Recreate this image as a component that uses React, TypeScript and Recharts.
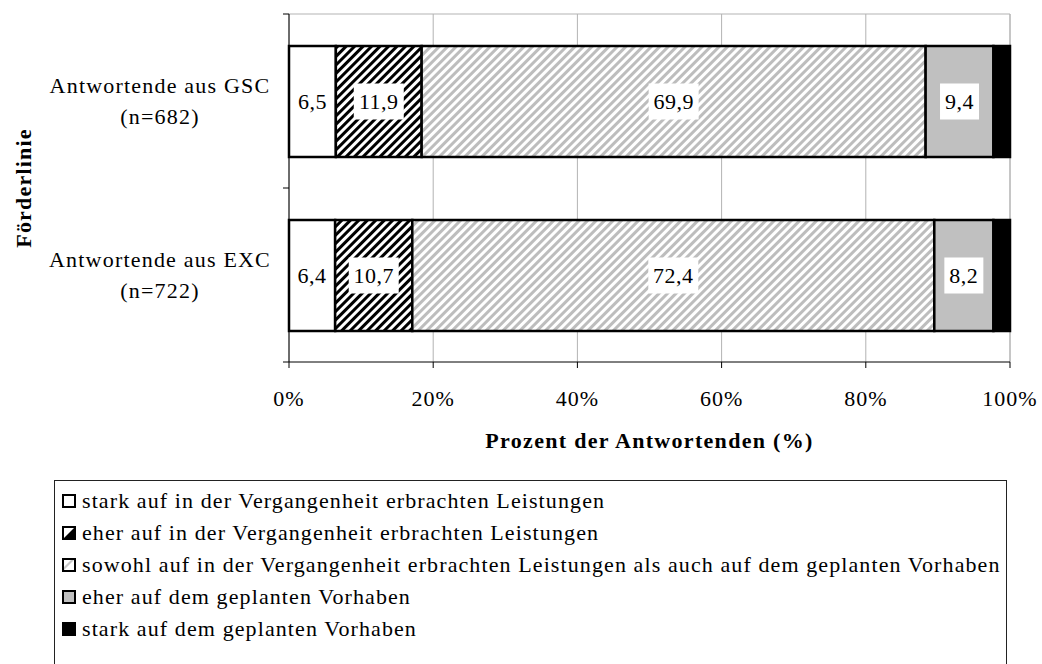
import React from 'react';
import { BarChart, Bar, XAxis, YAxis, CartesianGrid, LabelList, Legend, Label } from 'recharts';

const FONT = "'Liberation Serif', 'Times New Roman', serif";

const groups = ['Antwortende aus GSC', 'Antwortende aus EXC'];
const sampleSizes = ['(n=682)', '(n=722)'];
const seriesNames = [
  'stark auf in der Vergangenheit erbrachten Leistungen',
  'eher auf in der Vergangenheit erbrachten Leistungen',
  'sowohl auf in der Vergangenheit erbrachten Leistungen als auch auf dem geplanten Vorhaben',
  'eher auf dem geplanten Vorhaben',
  'stark auf dem geplanten Vorhaben',
];
const starkVergangen = [6.5, 6.4];
const eherVergangen = [11.9, 10.7];
const sowohlAlsAuch = [69.9, 72.4];
const eherGeplant = [9.4, 8.2];
const starkGeplant = [2.3, 2.3];
const xTicks = [0, 20, 40, 60, 80, 100];

const seriesKeys = ['s1', 's2', 's3', 's4', 's5'];
const seriesFills = ['#ffffff', 'url(#hatchDark)', 'url(#hatchLight)', '#c0c0c0', '#000000'];

const data = groups.map((name, i) => ({
  name,
  s1: starkVergangen[i],
  s2: eherVergangen[i],
  s3: sowohlAlsAuch[i],
  s4: eherGeplant[i],
  s5: starkGeplant[i],
}));

const fmt = (v: number) => v.toFixed(1).replace('.', ',');

const ValueLabel = (props: any) => {
  const { x, y, width, height, value } = props;
  const cx = x + width / 2;
  const cy = y + height / 2;
  const txt = fmt(Number(value));
  const w = txt.length * 11 + 6;
  return (
    <g>
      <rect x={cx - w / 2} y={cy - 18} width={w} height={36} fill="#fff" />
      <text x={cx} y={cy + 7.5} textAnchor="middle" fill="#000" fontSize={22} fontFamily={FONT} letterSpacing={0.5}>
        {txt}
      </text>
    </g>
  );
};

const CategoryTick = (props: any) => {
  const { x, y, payload, index } = props;
  const half = payload && payload.offset ? payload.offset : 0;
  const lx = x + 6;
  return (
    <g>
      <line x1={lx - 6} x2={lx} y1={y - half} y2={y - half} stroke="#000" />
      {index === groups.length - 1 && <line x1={lx - 6} x2={lx} y1={y + half} y2={y + half} stroke="#000" />}
      <text x={lx - 129} y={y - 8} textAnchor="middle" fill="#000" fontSize={22} fontFamily={FONT} letterSpacing={1.2}>
        {payload.value}
      </text>
      <text x={lx - 129} y={y + 23} textAnchor="middle" fill="#000" fontSize={22} fontFamily={FONT} letterSpacing={1.2}>
        {sampleSizes[index]}
      </text>
    </g>
  );
};

const XTitle = (props: any) => {
  const vb = props.viewBox;
  return (
    <text x={vb.x + vb.width / 2} y={vb.y + 86} textAnchor="middle" fill="#000" fontSize={22} fontWeight="bold" fontFamily={FONT} letterSpacing={1.3}>
      Prozent der Antwortenden (%)
    </text>
  );
};

const YTitle = (props: any) => {
  const vb = props.viewBox;
  const cx = 31;
  const cy = vb.y + vb.height / 2;
  return (
    <text x={cx} y={cy} transform={`rotate(-90, ${cx}, ${cy})`} textAnchor="middle" fill="#000" fontSize={22} fontWeight="bold" fontFamily={FONT} letterSpacing={1.2}>
      Förderlinie
    </text>
  );
};

const Marker = ({ i }: { i: number }) => {
  const inner = [
    <rect key="b" x={1} y={1} width={12} height={12} fill="#fff" stroke="#000" strokeWidth={2} />,
  ];
  if (i === 1) inner.push(<polygon key="p" points="2,12 12,2 12,12" fill="#000" />);
  if (i === 2) inner.push(<polygon key="p" points="2,9 9,2 12,2 2,12" fill="#c8c8c8" />);
  if (i === 3) inner[0] = <rect key="b" x={1} y={1} width={12} height={12} fill="#c0c0c0" stroke="#000" strokeWidth={2} />;
  if (i === 4) inner[0] = <rect key="b" x={1} y={1} width={12} height={12} fill="#000" stroke="#000" strokeWidth={2} />;
  return (
    <svg width={14} height={14} style={{ marginLeft: 7, marginRight: 6, flex: 'none' }}>
      {inner}
    </svg>
  );
};

const LegendBox = (props: any) => {
  const items = [...(props.payload || [])].sort(
    (a: any, b: any) => seriesNames.indexOf(a.value) - seriesNames.indexOf(b.value)
  );
  return (
    <div
      style={{
        width: 953,
        height: 200,
        border: '1px solid #222',
        boxSizing: 'border-box',
        paddingTop: 4,
        background: '#fff',
      }}
    >
      {items.map((entry: any) => {
        const i = seriesNames.indexOf(entry.value);
        return (
          <div
            key={entry.value}
            style={{
              height: 32,
              display: 'flex',
              alignItems: 'center',
              fontFamily: FONT,
              fontSize: 22,
              letterSpacing: 1.1,
              color: '#000',
              whiteSpace: 'nowrap',
            }}
          >
            <Marker i={i} />
            <span>{entry.value}</span>
          </div>
        );
      })}
    </div>
  );
};

export default function App() {
  return (
    <div style={{ position: 'absolute', left: 0, top: 0, width: 1042, height: 664, overflow: 'hidden', background: '#fff' }}>
      <BarChart
        width={1042}
        height={664}
        data={data}
        layout="vertical"
        margin={{ top: 14, right: 32, left: 0, bottom: 202 }}
        barSize={111}
      >
        <defs>
          <pattern id="hatchDark" width="6" height="6" patternUnits="userSpaceOnUse" patternTransform="rotate(45)">
            <rect width="6" height="6" fill="#fff" />
            <rect width="3" height="6" fill="#000" />
          </pattern>
          <pattern id="hatchLight" width="6" height="6" patternUnits="userSpaceOnUse" patternTransform="rotate(45)">
            <rect width="6" height="6" fill="#fff" />
            <rect width="3" height="6" fill="#bdbdbd" />
          </pattern>
        </defs>
        <CartesianGrid stroke="#b3b3b3" horizontalCoordinatesGenerator={({ offset }: any) => [offset.top]} />
        <XAxis
          type="number"
          domain={[0, 100]}
          ticks={xTicks}
          interval={0}
          tickFormatter={(v: number) => `${v}%`}
          axisLine={{ stroke: '#000' }}
          tickLine={{ stroke: '#000' }}
          tickSize={6}
          tickMargin={22}
          height={100}
          tick={{ fill: '#000', fontSize: 22, fontFamily: FONT, letterSpacing: 1 }}
        >
          <Label content={XTitle} />
        </XAxis>
        <YAxis
          type="category"
          dataKey="name"
          width={289}
          interval={0}
          axisLine={{ stroke: '#000' }}
          tickLine={false}
          tickSize={6}
          tickMargin={0}
          tick={<CategoryTick />}
        >
          <Label content={YTitle} />
        </YAxis>
        <Legend
          layout="vertical"
          align="center"
          verticalAlign="middle"
          wrapperStyle={{ top: 480, left: 54, width: 953 }}
          content={<LegendBox />}
        />
        {seriesKeys.map((key, i) => (
          <Bar
            key={key}
            dataKey={key}
            name={seriesNames[i]}
            stackId="a"
            fill={seriesFills[i]}
            stroke="#000"
            strokeWidth={2.5}
            isAnimationActive={false}
          >
            {i < 4 && <LabelList dataKey={key} content={<ValueLabel />} />}
          </Bar>
        ))}
      </BarChart>
    </div>
  );
}
